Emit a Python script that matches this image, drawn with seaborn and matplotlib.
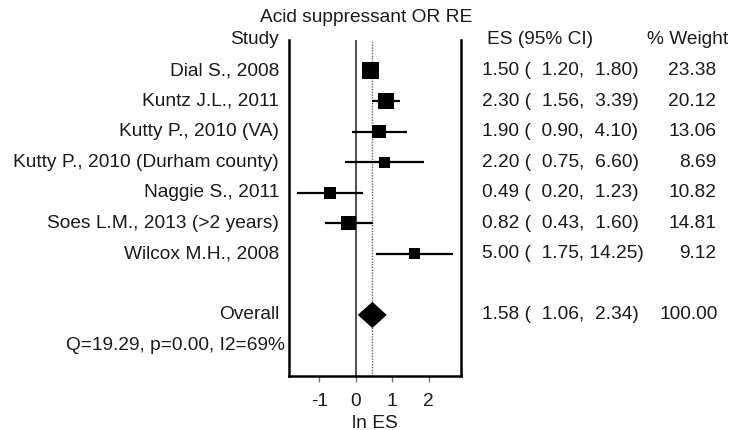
import numpy as np
import pandas as pd
import matplotlib
matplotlib.use("Agg")
import matplotlib.pyplot as plt
import matplotlib.transforms as mtransforms
import seaborn as sns

studies = ["Dial S., 2008", "Kuntz J.L., 2011", "Kutty P., 2010 (VA)",
           "Kutty P., 2010 (Durham county)", "Naggie S., 2011",
           "Soes L.M., 2013 (>2 years)", "Wilcox M.H., 2008"]
es = [1.50, 2.30, 1.90, 2.20, 0.49, 0.82, 5.00]
lo = [1.20, 1.56, 0.90, 0.75, 0.20, 0.43, 1.75]
hi = [1.80, 3.39, 4.10, 6.60, 1.23, 1.60, 14.25]
weight = [23.38, 20.12, 13.06, 8.69, 10.82, 14.81, 9.12]
overall_es, overall_lo, overall_hi, overall_w = 1.58, 1.06, 2.34, 100.00
het_text = "Q=19.29, p=0.00, I2=69%"
title = "Acid suppressant OR RE"
xticks = [-1, 0, 1, 2]

sns.set_theme(style="white")
plt.rcParams["font.family"] = ["Liberation Sans", "DejaVu Sans"]
TXT = "#1a1a1a"
FS = 13.8

W, H = 742, 430
fig = plt.figure(figsize=(W / 100, H / 100), dpi=100)
ax = fig.add_axes([289 / W, (H - 376) / H, (461 - 289) / W, (376 - 40) / H])

rows = list(range(1, len(studies) + 1))
df = pd.DataFrame({"study": studies, "row": rows,
                   "ln_es": np.log(es), "ln_lo": np.log(lo), "ln_hi": np.log(hi),
                   "weight": weight})

# reference lines
ax.axvline(0, color="#555555", lw=1.5, zorder=1)
ax.axvline(np.log(overall_es), color="#666666", lw=1.0, ls=(0, (1, 1)), zorder=1)

# CIs
ax.hlines(df["row"], df["ln_lo"], df["ln_hi"], color="black", lw=1.6, zorder=2)
# squares
sns.scatterplot(data=df, x="ln_es", y="row", size="weight", sizes=(0, 700),
                size_norm=(0, 100), marker="s", color="black", linewidth=0,
                legend=False, ax=ax, zorder=3)

# overall diamond
orow = 9
h = 0.43
ax.fill([np.log(overall_lo), np.log(overall_es), np.log(overall_hi), np.log(overall_es)],
        [orow, orow - h, orow, orow + h], color="black", lw=0, zorder=3)

ax.set_xlim(-1.83, 2.89)
ax.set_ylim(11, 0)
ax.set_xticks(xticks)
ax.set_xticklabels([str(t) for t in xticks], fontsize=FS, color=TXT)
ax.set_yticks([])
ax.set_xlabel("ln ES", fontsize=FS, color=TXT, labelpad=3.5)
ax.set_ylabel("")
ax.tick_params(axis="x", direction="out", length=4, width=1, color="#777777",
               bottom=True, pad=8)
for s in ["left", "right", "bottom"]:
    ax.spines[s].set_visible(True)
    ax.spines[s].set_color("black")
    ax.spines[s].set_linewidth(1.8)
ax.spines["top"].set_visible(False)

tr = mtransforms.blended_transform_factory(fig.transFigure, ax.transData)
kw = dict(fontsize=FS, color=TXT, va="center", transform=tr, clip_on=False)

# headers
ax.text(279 / W, 0, "Study", ha="right", **kw)
ax.text(487 / W, 0, "ES (95% CI)", ha="left", **kw)
ax.text(728 / W, 0, "% Weight", ha="right", **kw)
fig.text(366 / W, 1 - 18 / H, title, ha="center", va="center", fontsize=FS, color=TXT)

for r, s_, e, l, u, w in zip(rows, studies, es, lo, hi, weight):
    ax.text(279 / W, r, s_, ha="right", **kw)
    ax.text(482 / W, r, f"{e:.2f} ( {l:5.2f}, {u:5.2f})", ha="left", **kw)
    ax.text(716 / W, r, f"{w:.2f}", ha="right", **kw)

ax.text(279 / W, orow, "Overall", ha="right", **kw)
ax.text(482 / W, orow, f"{overall_es:.2f} ( {overall_lo:5.2f}, {overall_hi:5.2f})", ha="left", **kw)
ax.text(718 / W, orow, f"{overall_w:.2f}", ha="right", **kw)
ax.text(285 / W, 10, het_text, ha="right", **kw)

fig.savefig("out.png", dpi=100, facecolor="white")
